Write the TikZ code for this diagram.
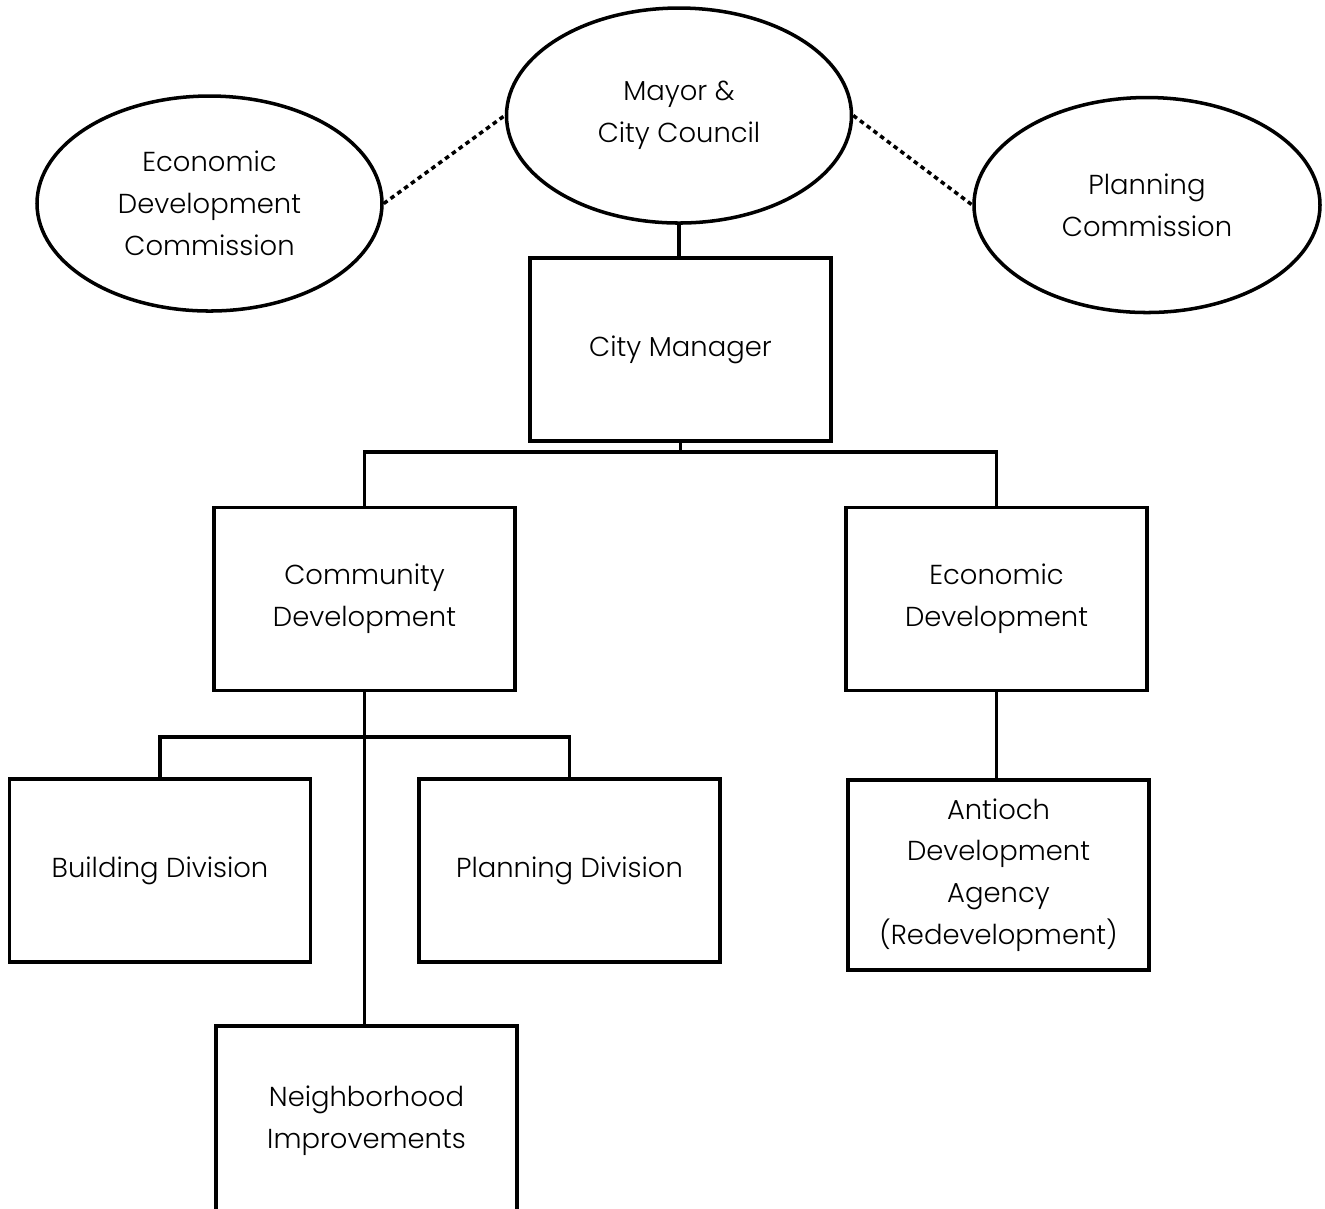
\documentclass[tikz,border=0pt]{standalone}
\usepackage{fontspec}
\setmainfont{Poppins}[UprightFont={* Light}]
\usetikzlibrary{shapes.geometric}

\begin{document}
\begin{tikzpicture}
  [line width=1pt,
   every node/.style={align=center,inner sep=0pt,font=\fontsize{7.8}{11.9}\selectfont},
   office/.style={draw,rectangle,minimum width=3.01cm,minimum height=1.83cm},
   board/.style={draw,ellipse,minimum width=3.45cm,minimum height=2.15cm},
   advises/.style={dash pattern=on 1.3pt off 1.1pt}]
  \useasboundingbox (0,0) rectangle (13.25,-12.08);
  \clip (0,0) rectangle (13.25,-12.08);

  \node[board] (mayor) at (6.79,-1.155) {Mayor \&\\City Council};
  \node[board] (edc) at (2.095,-2.035) {Economic\\Development\\Commission};
  \node[board,minimum width=3.46cm] (pc) at (11.47,-2.05) {Planning\\Commission};

  \node[office] (manager) at (6.805,-3.495) {City Manager};
  \node[office] (comdev) at (3.645,-5.99) {Community\\Development};
  \node[office] (ecodev) at (9.965,-5.99) {Economic\\Development};
  \node[office] (building) at (1.60,-8.705) {Building Division};
  \node[office] (planning) at (5.695,-8.705) {Planning Division};
  \node[office,minimum height=1.9cm] (antioch) at (9.985,-8.75) {Antioch\\Development\\Agency\\(Redevelopment)};
  \node[office,minimum height=1.89cm] (neigh) at (3.665,-11.205) {Neighborhood\\Improvements};

  \coordinate (mbus) at (6.805,-4.52);
  \coordinate (cbus) at (3.645,-7.37);

  \draw[advises] (edc.east) -- (mayor.west);
  \draw[advises] (mayor.east) -- (pc.west);
  \draw (mayor.south) -- (mayor.south |- manager.north);
  \draw (manager.south) -- (mbus);
  \foreach \to in {comdev,ecodev}
    \draw (mbus) -| (\to.north);
  \draw (comdev.south) -- (comdev.south |- neigh.north);
  \foreach \to in {building,planning}
    \draw (cbus) -| (\to.north);
  \draw (ecodev.south) -- (ecodev.south |- antioch.north);

\end{tikzpicture}
\end{document}
